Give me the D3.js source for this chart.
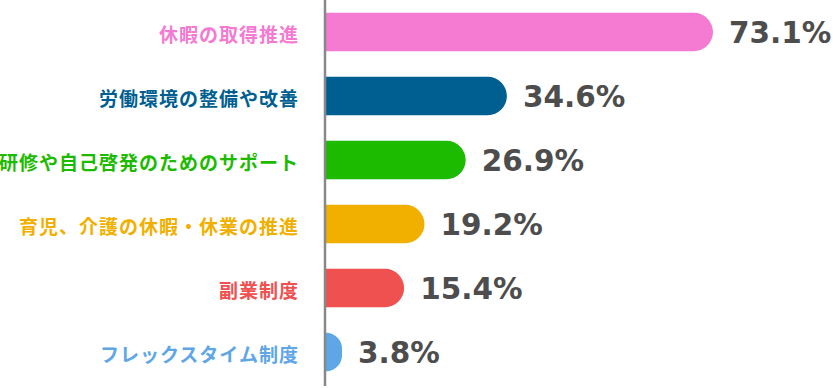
<!DOCTYPE html>
<html>
<head>
<meta charset="utf-8">
<script src="https://cdn.jsdelivr.net/npm/d3@7"></script>
<style>
  body { margin: 0; background: #fff; }
</style>
</head>
<body>
<div id="chart"></div>
<script>
// data
const categories = ["休暇の取得推進", "労働環境の整備や改善", "研修や自己啓発のためのサポート",
  "育児、介護の休暇・休業の推進", "副業制度", "フレックスタイム制度"];
const values = [73.1, 34.6, 26.9, 19.2, 15.4, 3.8];
const colors = ["#f47ad2", "#005f91", "#1dbb00", "#f1b000", "#ef5050", "#5ea6e6"];

const width = 833, height = 388;
const axisX = 325;

const svg = d3.select("#chart")
  .append("svg")
  .attr("width", width)
  .attr("height", height);

// scales
const x = d3.scaleLinear()
  .domain([0, 73.1])
  .range([321.7, 713]);

const y = d3.scaleBand()
  .domain(categories)
  .range([0, 384])
  .paddingInner(0.4)
  .paddingOuter(0.2);

// bars with rounded right end
function barPath(d, i) {
  const x0 = axisX + 1, x1 = x(values[i]);
  const y0 = y(d), h = y.bandwidth();
  const r = Math.min(h / 2, x1 - x0);
  return `M${x0},${y0} H${x1 - r} A${r},${r} 0 0 1 ${x1},${y0 + r}` +
    ` V${y0 + h - r} A${r},${r} 0 0 1 ${x1 - r},${y0 + h} H${x0} Z`;
}

svg.selectAll(".bar")
  .data(categories)
  .join("path")
  .attr("class", "bar")
  .attr("fill", (d, i) => colors[i])
  .attr("d", barPath);

// category labels
svg.selectAll(".label")
  .data(categories)
  .join("text")
  .attr("class", "label")
  .attr("x", 299)
  .attr("y", d => y(d) + y.bandwidth() / 2 + 1)
  .attr("text-anchor", "end")
  .attr("dominant-baseline", "central")
  .attr("fill", (d, i) => colors[i])
  .style("font-family", "'Noto Sans CJK JP', sans-serif")
  .style("font-weight", "bold")
  .style("font-size", "19px")
  .style("letter-spacing", "1px")
  .text(d => d);

// value labels
svg.selectAll(".value")
  .data(categories)
  .join("text")
  .attr("class", "value")
  .attr("x", (d, i) => x(values[i]) + 16)
  .attr("y", d => y(d) + y.bandwidth() / 2 + 1)
  .attr("dominant-baseline", "central")
  .attr("fill", "#4d4d4d")
  .style("font-family", "'DejaVu Sans', sans-serif")
  .style("font-weight", "bold")
  .style("font-size", "29.5px")
  .text((d, i) => values[i].toFixed(1) + "%");

// vertical axis line
svg.append("line")
  .attr("x1", axisX).attr("x2", axisX)
  .attr("y1", 0).attr("y2", 386)
  .attr("stroke", "#888888")
  .attr("stroke-width", 2.5);
</script>
</body>
</html>
